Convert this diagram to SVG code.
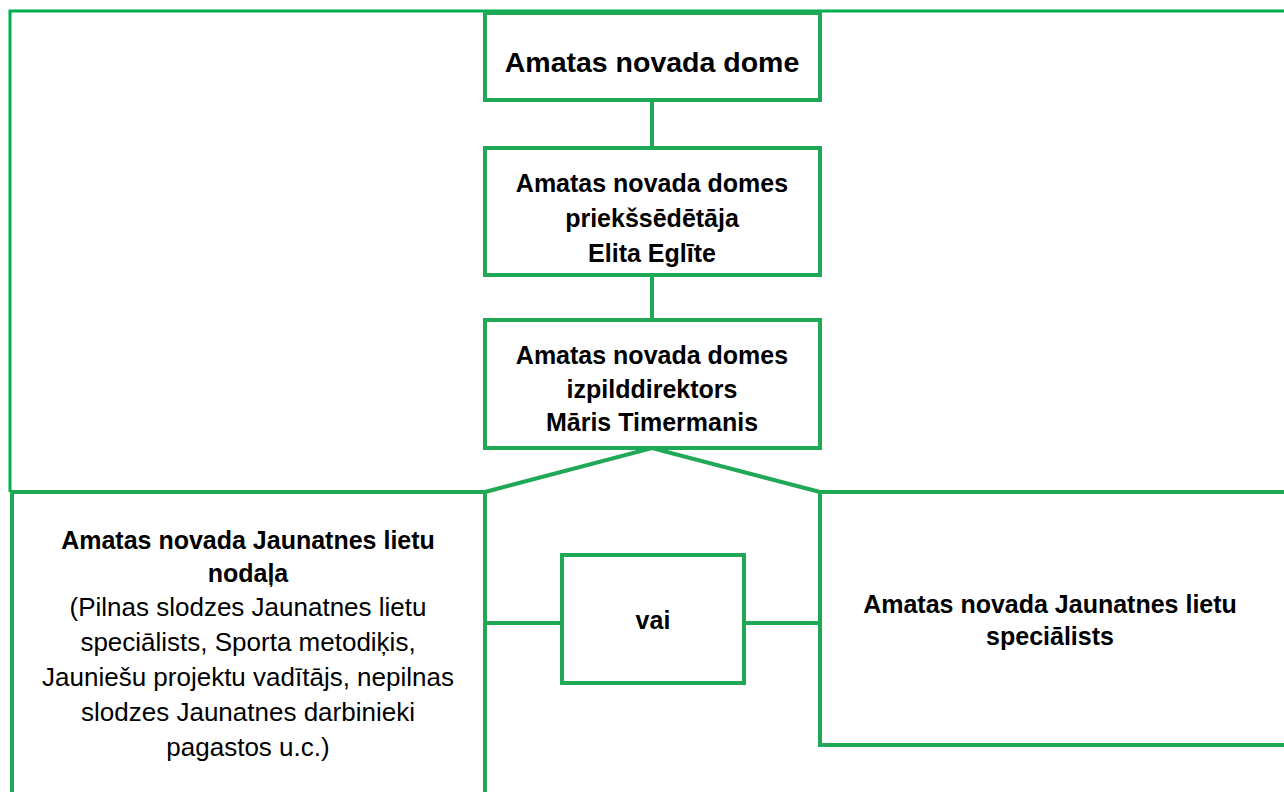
<svg xmlns="http://www.w3.org/2000/svg" width="1284" height="792" viewBox="0 0 1284 792">
<style>
.box{fill:#fff;stroke:#1fa855;stroke-width:4}
.con{fill:none;stroke:#1fa855;stroke-width:4}
.frame{fill:none;stroke:#00b050;stroke-width:3}
text{font-family:"Liberation Sans",Arial,sans-serif;fill:#000;text-anchor:middle}
.b{font-weight:bold;font-size:25px}
.r{font-size:26px}
.t{font-weight:bold;font-size:28.5px}
</style>
<rect width="1284" height="792" fill="#fff"/>
<g id="frame"><polyline class="frame" points="10,492 10,11 1284,11"/></g>
<g id="connectors">
<line class="con" x1="652" y1="100" x2="652" y2="148"/>
<line class="con" x1="652" y1="275" x2="652" y2="320"/>
<polyline class="con" points="485,492 652,448 820,492"/>
<line class="con" x1="485" y1="623" x2="562" y2="623"/>
<line class="con" x1="744" y1="623" x2="820" y2="623"/>
</g>
<g id="n1"><rect class="box" x="485" y="13" width="335" height="87"/>
<text class="t" x="652" y="72">Amatas novada dome</text></g>
<g id="n2"><rect class="box" x="485" y="148" width="335" height="127"/>
<text class="b" x="652" y="192">Amatas novada domes</text>
<text class="b" x="652" y="227">priekšsēdētāja</text>
<text class="b" x="652" y="262">Elita Eglīte</text></g>
<g id="n3"><rect class="box" x="485" y="320" width="335" height="128"/>
<text class="b" x="652" y="364">Amatas novada domes</text>
<text class="b" x="652" y="398">izpilddirektors</text>
<text class="b" x="652" y="431">Māris Timermanis</text></g>
<g id="n4"><rect class="box" x="12" y="492" width="473" height="320"/>
<text class="b" x="248" y="549">Amatas novada Jaunatnes lietu</text>
<text class="b" x="248" y="582">nodaļa</text>
<text class="r" x="248" y="616">(Pilnas slodzes Jaunatnes lietu</text>
<text class="r" x="248" y="651">speciālists, Sporta metodiķis,</text>
<text class="r" x="248" y="686">Jauniešu projektu vadītājs, nepilnas</text>
<text class="r" x="248" y="721">slodzes Jaunatnes darbinieki</text>
<text class="r" x="248" y="756">pagastos u.c.)</text></g>
<g id="n5"><rect class="box" x="820" y="492" width="480" height="253"/>
<text class="b" x="1050" y="613">Amatas novada Jaunatnes lietu</text>
<text class="b" x="1050" y="645">speciālists</text></g>
<g id="n6"><rect class="box" x="562" y="555" width="182" height="128"/>
<text class="b" x="653" y="629">vai</text></g>
</svg>
